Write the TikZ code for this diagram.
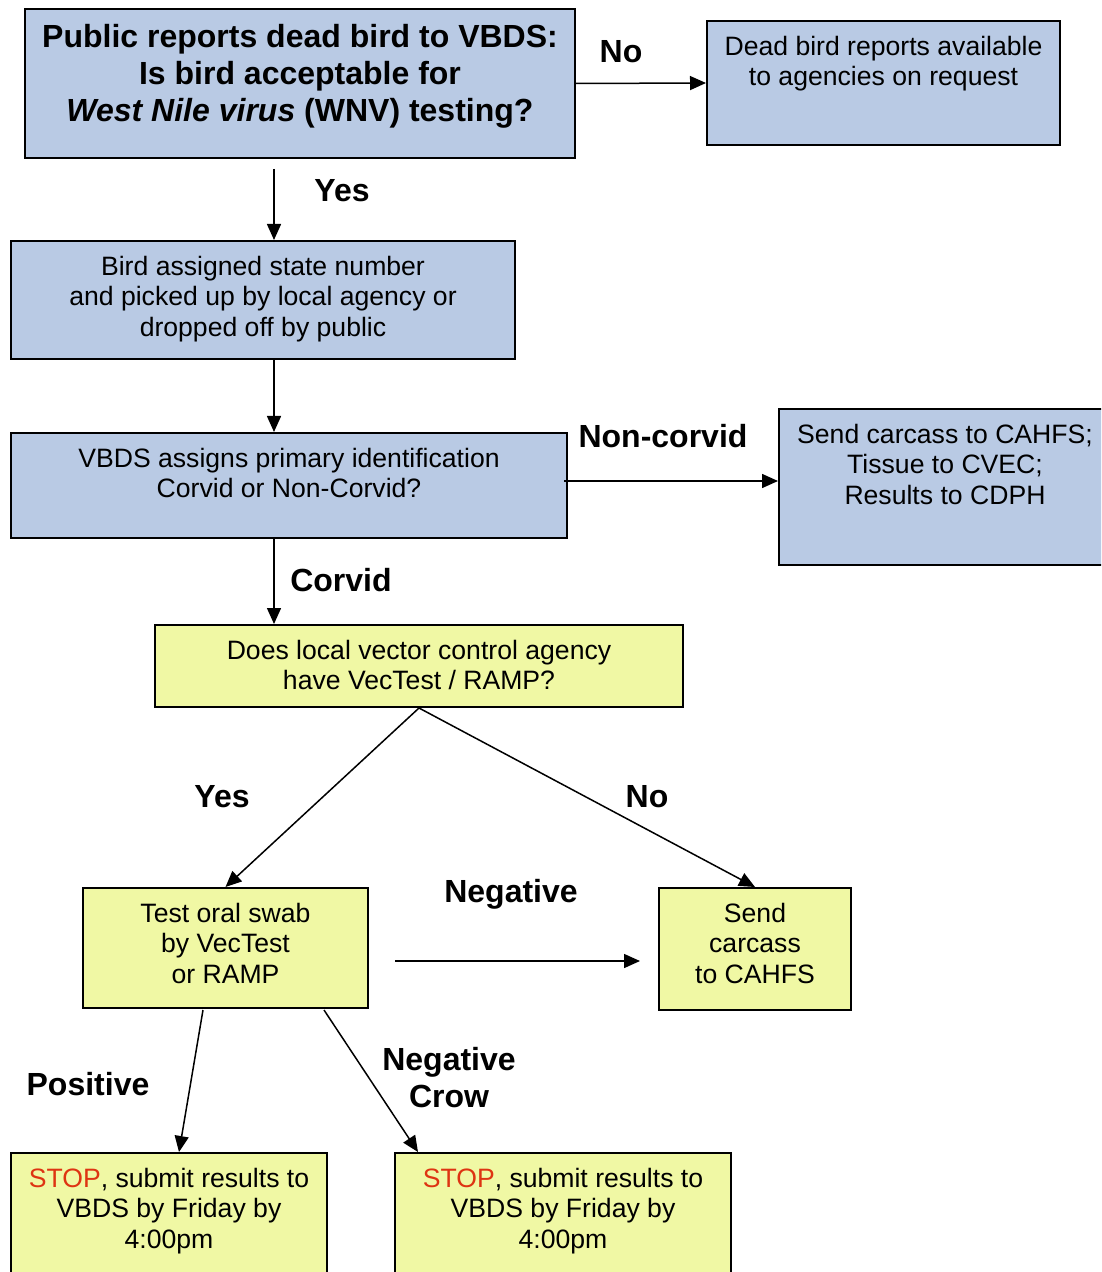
\documentclass[tikz,border=0pt]{standalone}
\usepackage{fontspec}
\setmainfont{Liberation Sans}
\usetikzlibrary{positioning, arrows.meta, calc}
\definecolor{boxblue}{RGB}{185,202,228}
\definecolor{boxyellow}{RGB}{240,248,164}
\definecolor{stopred}{RGB}{222,52,18}
\newdimen\pxu \pxu=0.5pt
\newcommand{\boxtext}[3]{\parbox[t][#2\pxu][t]{#1\pxu}{\centering\vspace*{6.5pt}\strut#3\par}}
\newcommand{\bigbold}{\fontsize{16pt}{18.5pt}\selectfont\bfseries}

\begin{document}
\begin{tikzpicture}[x=0.5pt, y=-0.5pt,
    box/.style={draw, line width=1pt, inner sep=0pt, anchor=north west, font=\fontsize{13.3pt}{15.25pt}\selectfont},
    bluebox/.style={box, fill=boxblue},
    yellowbox/.style={box, fill=boxyellow},
    lbl/.style={font=\bigbold, anchor=base, align=center, inner sep=0pt},
    arr/.style={line width=0.75pt, -{Triangle[length=8pt,width=7pt]}}]
        \path[use as bounding box, fill=white] (0,0) rectangle (1101,1272);
        \clip (0,0) rectangle (1101,1272);

        \node[bluebox, font=\bigbold] (box 0) at (24,8) {\boxtext{550}{149}{Public reports dead bird to VBDS:\\Is bird acceptable for\\\textit{West Nile virus} (WNV) testing?}};
        \node[bluebox] (box 1) at (706,20) {\boxtext{353}{124}{Dead bird reports available\\to agencies on request}};
        \node[bluebox] (box 2) at (10,240) {\boxtext{504}{118}{Bird assigned state number\\and picked up by local agency or\\dropped off by public}};
        \node[bluebox] (box 3) at (10,432) {\boxtext{556}{105}{VBDS assigns primary identification\\Corvid or Non-Corvid?}};
        \node[bluebox] (box 4) at (778,408) {\boxtext{332}{156}{Send carcass to CAHFS;\\Tissue to CVEC;\\Results to CDPH}};

        \node[yellowbox] (box 5) at (154,624) {\boxtext{528}{82}{Does local vector control agency\\have VecTest / RAMP?}};
        \node[yellowbox] (box 6) at (82,887) {\boxtext{285}{120}{Test oral swab\\by VecTest\\or RAMP}};
        \node[yellowbox] (box 7) at (658,887) {\boxtext{192}{122}{Send\\carcass\\to CAHFS}};
        \node[yellowbox] (box 8) at (10,1152) {\boxtext{316}{140}{\textcolor{stopred}{STOP}, submit results to\\VBDS by Friday by\\4:00pm}};
        \node[yellowbox] (box 9) at (394,1152) {\boxtext{336}{140}{\textcolor{stopred}{STOP}, submit results to\\VBDS by Friday by\\4:00pm}};

        % labels on the arrows
        \node[lbl] (no 1) at (621,62.5) {No};
        \node[lbl] (yes 1) at (342,201.5) {Yes};
        \node[lbl] (noncorvid) at (663,447.5) {Non-corvid};
        \node[lbl] (corvid) at (341,591.5) {Corvid};
        \node[lbl] (yes 2) at (222,807.5) {Yes};
        \node[lbl] (no 2) at (647,807.5) {No};
        \node[lbl] (negative) at (511,902.5) {Negative};
        \node[lbl] (positive) at (88,1095.5) {Positive};
        \node[lbl] (negcrow) at (449,1107.5) {Negative\\Crow};

        \coordinate (spine) at (274,0);

        \draw[arr] (box 0.east) -- (box 1.west);
        \draw[arr] ($(spine |- box 0.south)+(0,10)$) -- (spine |- box 2.north);
        \foreach \a/\b in {2/3,3/5}
        \draw[arr] (spine |- box \a.south) -- (spine |- box \b.north);
        \draw[arr] ($(box 3.east)+(-4,-4.5)$) -- ($(box 3.east -| box 4.west)+(0,-4.5)$);

        \draw[arr] (box 5.south) -- (box 6.north);
        \draw[arr] (box 5.south) -- (box 7.north);
        \draw[arr] ($(box 6.east)+(26,13)$) -- ($(box 6.east -| box 7.west)+(-18,13)$);
        \draw[arr] ($(box 6.south)+(-22.5,1)$) -- ($(box 8.north)+(10,0)$);
        \draw[arr] ($(box 6.south east)+(-45,1)$) -- ($(box 9.north west)+(24,0)$);

    \end{tikzpicture}
\end{document}
